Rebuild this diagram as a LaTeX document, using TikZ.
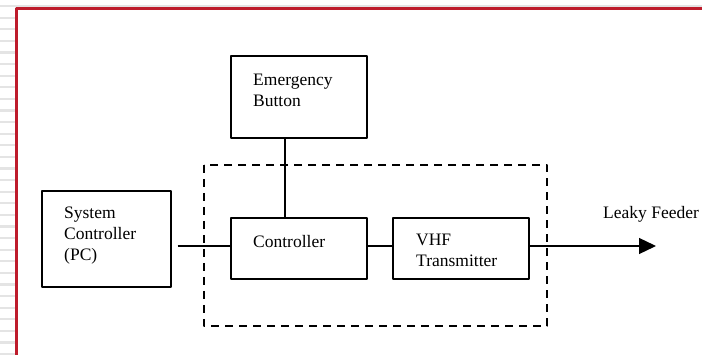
\documentclass[tikz,border=0pt]{standalone}
\usepackage{fontspec}
\setmainfont{Liberation Serif}
\usetikzlibrary{arrows.meta,calc}
\definecolor{slidered}{RGB}{190,28,44}
\definecolor{stripe}{RGB}{228,228,228}
\begin{document}
\begin{tikzpicture}[x=1pt,y=-1pt, line join=round,
	box/.style={draw, line width=1.3pt, minimum width=136pt, minimum height=61pt, inner sep=0pt},
	txt/.style={anchor=west, inner sep=0pt, align=left, font=\fontsize{17.5}{21}\selectfont},
	wire/.style={line width=1.3pt}]
			\useasboundingbox (0,0) rectangle (702,355);
			\fill[white] (0,0) rectangle (702,355);
			\foreach \k in {0,...,30} \fill[stripe] (0,{5+11.6*\k}) rectangle (15,{7.2+11.6*\k});
			\fill[stripe] (0,5) rectangle (702,7);
			\draw[slidered, line width=2.8pt] (16.8,355) -- (16.8,8.3) -- (702,8.3);
			\node[box, minimum width=129pt, minimum height=96pt] (pc) at (106.5,239) {};
			\node[box, minimum height=82pt] (emg) at (299,97) {};
			\node[box] (ctrl) at (299,248.5) {};
			\node[box] (vhf) at (461,248.5) {};
			\draw[line width=1.3pt, dash pattern=on 8pt off 6pt] (204,165) rectangle (547,326);
			\node[txt, anchor=north west] (pctext) at (64,207) {System\\Controller\\(PC)};
			\node[txt, anchor=north west] (emgtext) at (253,74) {Emergency\\Button};
			\node[txt] (ctrltext) at (253,242) {Controller};
			\node[txt, anchor=north west] (vhftext) at (416,234) {VHF\\Transmitter};
			\node[txt] (feedtext) at (603,214.5) {Leaky Feeder};
			\coordinate (bus) at (0,246);
			\coordinate (drop) at (285,0);
			\coordinate (feed) at (656,246);
			\draw[wire] ([xshift=6pt]pc.east |- bus) -- (ctrl.west |- bus);
			\draw[wire] (ctrl.east |- bus) -- (vhf.west |- bus);
			\draw[wire] (emg.south -| drop) -- (ctrl.north -| drop);
			\draw[wire, -{Triangle[length=17pt,width=16pt]}] (vhf.east |- bus) -- (feed);
		\end{tikzpicture}
\end{document}
